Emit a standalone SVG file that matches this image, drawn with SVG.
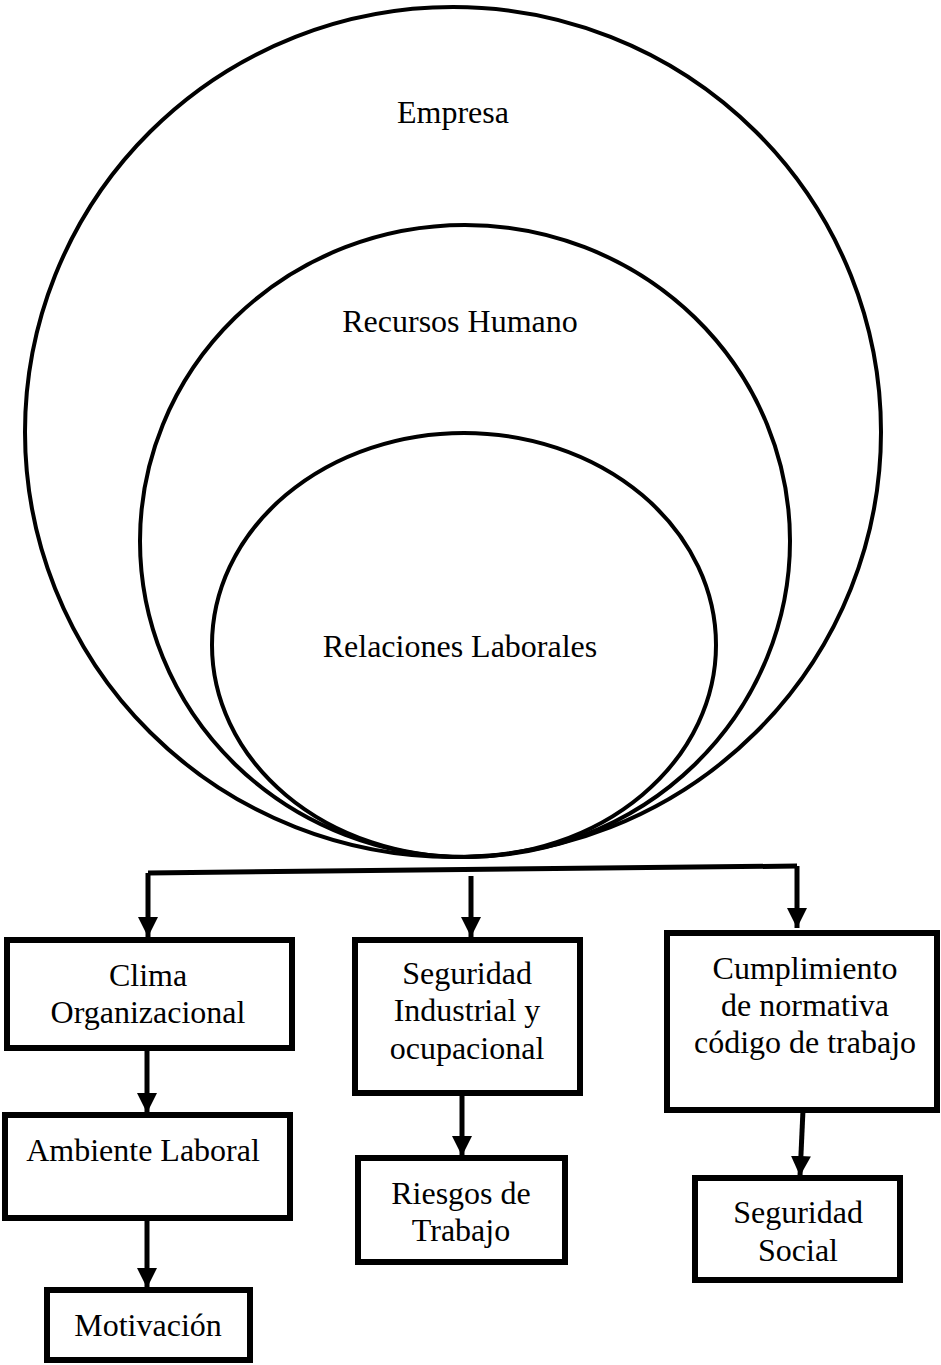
<svg xmlns="http://www.w3.org/2000/svg" width="941" height="1365" viewBox="0 0 941 1365">
<style>
.ell{fill:none;stroke:#000;stroke-width:4}
.box{fill:#fff;stroke:#000;stroke-width:6}
.t{font-family:"Liberation Serif","Times New Roman",serif;font-size:32px;fill:#000;text-anchor:middle}
.c{fill:none;stroke:#000;stroke-width:5}
</style>
<defs>
<marker id="ah" markerWidth="4" markerHeight="4" refX="4" refY="2" orient="auto" markerUnits="strokeWidth">
<path d="M0,0 L4,2 L0,4 Z" fill="#000"/>
</marker>
</defs>
<rect width="941" height="1365" fill="#fff"/>
<g id="empresa">
<ellipse class="ell" cx="453" cy="432" rx="428" ry="425"/>
<text class="t" x="453" y="123">Empresa</text>
</g>
<g id="recursos">
<ellipse class="ell" cx="465" cy="541" rx="325" ry="316"/>
<text class="t" x="460" y="332">Recursos Humano</text>
</g>
<g id="relaciones">
<ellipse class="ell" cx="464" cy="645" rx="252" ry="212"/>
<text class="t" x="460" y="657">Relaciones Laborales</text>
</g>
<g id="connectors">
<path class="c" d="M148,873 L797,866"/>
<path class="c" d="M148,873 L148,937" marker-end="url(#ah)"/>
<path class="c" d="M471,876 L471,937" marker-end="url(#ah)"/>
<path class="c" d="M797,866 L797,928" marker-end="url(#ah)"/>
<path class="c" d="M147,1048 L147,1113" marker-end="url(#ah)"/>
<path class="c" d="M147,1218 L147,1288" marker-end="url(#ah)"/>
<path class="c" d="M462,1093 L462,1156" marker-end="url(#ah)"/>
<path class="c" d="M803,1110 L800,1176" marker-end="url(#ah)"/>
</g>
<g id="clima">
<rect class="box" x="7" y="940" width="285" height="108"/>
<text class="t" x="148" y="986">Clima</text>
<text class="t" x="148" y="1023">Organizacional</text>
</g>
<g id="ambiente">
<rect class="box" x="5" y="1115" width="285" height="103"/>
<text class="t" x="143" y="1161">Ambiente Laboral</text>
</g>
<g id="motivacion">
<rect class="box" x="47" y="1290" width="203" height="70"/>
<text class="t" x="148" y="1336">Motivación</text>
</g>
<g id="seguridad-industrial">
<rect class="box" x="355" y="940" width="225" height="153"/>
<text class="t" x="467" y="984">Seguridad</text>
<text class="t" x="467" y="1021">Industrial y</text>
<text class="t" x="467" y="1059">ocupacional</text>
</g>
<g id="riesgos">
<rect class="box" x="358" y="1158" width="207" height="104"/>
<text class="t" x="461" y="1204">Riesgos de</text>
<text class="t" x="461" y="1241">Trabajo</text>
</g>
<g id="cumplimiento">
<rect class="box" x="667" y="933" width="270" height="177"/>
<text class="t" x="805" y="979">Cumplimiento</text>
<text class="t" x="805" y="1016">de normativa</text>
<text class="t" x="805" y="1053">código de trabajo</text>
</g>
<g id="seguridad-social">
<rect class="box" x="695" y="1178" width="205" height="102"/>
<text class="t" x="798" y="1223">Seguridad</text>
<text class="t" x="798" y="1261">Social</text>
</g>
</svg>
